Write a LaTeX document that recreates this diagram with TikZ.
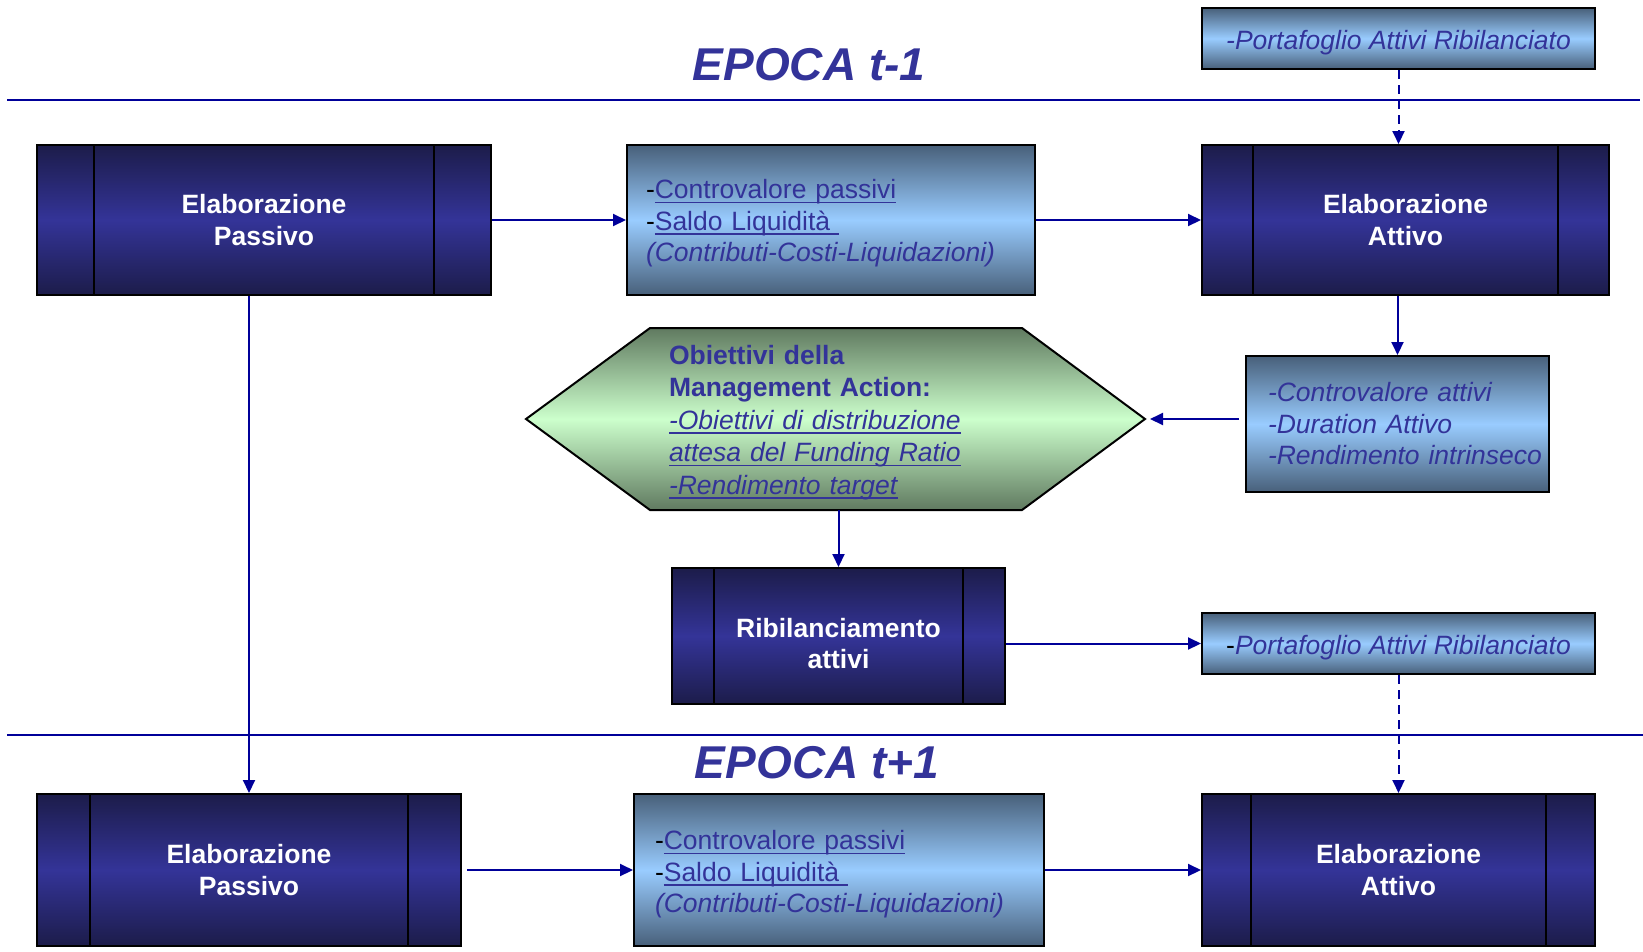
\documentclass[tikz,border=0pt]{standalone}
\usepackage{fontspec}
\setmainfont{Liberation Sans}
\usetikzlibrary{calc,arrows.meta}
\definecolor{txtblue}{RGB}{51,51,153}
\definecolor{lineblue}{RGB}{0,0,153}
\definecolor{navyedge}{RGB}{28,28,74}
\definecolor{navymid}{RGB}{52,52,152}
\definecolor{slate}{RGB}{72,96,122}
\definecolor{skyblue}{RGB}{153,204,255}
\definecolor{greygreen}{RGB}{96,122,96}
\definecolor{mint}{RGB}{204,255,204}
\newcommand{\myul}[1]{\setbox0\hbox{#1}\leavevmode\rlap{\rule[-4.5pt]{\wd0}{1.4pt}}\box0}
\newcommand{\topstrut}[1]{\rule{0pt}{#1}}
\tikzset{
  procbox/.style={draw=black, line width=2pt, top color=navyedge, bottom color=navyedge, middle color=navymid,
    text=white, font=\bfseries\fontsize{26.5}{31.5}\selectfont, align=center, inner sep=0pt,
    path picture={
      \draw[black,line width=2pt]
        ($(path picture bounding box.north west)!0.125!(path picture bounding box.north east)$) --
        ($(path picture bounding box.south west)!0.125!(path picture bounding box.south east)$);
      \draw[black,line width=2pt]
        ($(path picture bounding box.north west)!0.875!(path picture bounding box.north east)$) --
        ($(path picture bounding box.south west)!0.875!(path picture bounding box.south east)$);
    }},
  infobox/.style={draw=black, line width=2pt, top color=slate, bottom color=slate, middle color=skyblue,
    text=txtblue, font=\fontsize{26.5}{31.5}\selectfont, align=left, inner sep=0pt},
  conn/.style={lineblue, line width=2pt, -{Triangle[length=13pt,width=12pt]}},
  dashconn/.style={conn, dash pattern=on 9pt off 6pt},
  divider/.style={lineblue, line width=2pt},
  epoca/.style={text=txtblue, font=\bfseries\itshape\fontsize{46}{55}\selectfont, inner sep=0pt},
  hexshape/.style={draw=black, line width=2pt, top color=greygreen, bottom color=greygreen, middle color=mint},
  hextext/.style={text=txtblue, font=\fontsize{26.5}{32.5}\selectfont, align=left, text width=332pt, inner sep=0pt}
}
\begin{document}
\begin{tikzpicture}[x=1pt,y=-1pt]
\useasboundingbox (0,0) rectangle (1643,951);
% dividers
\coordinate (d1l) at (7,99.5);
\coordinate (d1r) at (1640,99.5);
\coordinate (d2l) at (7,734.5);
\coordinate (d2r) at (1643,734.5);
\draw[divider] (d1l) -- (d1r);
\draw[divider] (d2l) -- (d2r);
\node[epoca] (ep1) at (809,65) {EPOCA t-1};
\node[epoca] (ep2) at (817,763) {EPOCA t+1};

% top row
\node[procbox, minimum width=454pt, minimum height=150pt] (pt) at (264,220) {Elaborazione\\Passivo};
\node[infobox, minimum width=408pt, minimum height=150pt, text width=370pt] (b1) at (831,220)
  {\topstrut{26pt}\textcolor{black}{-}\myul{Controvalore passivi}\\\textcolor{black}{-}\myul{Saldo Liquidità\ }\\\textit{(Contributi-Costi-Liquidazioni)}};
\node[procbox, minimum width=407pt, minimum height=150pt] (at) at (1405.5,220) {Elaborazione\\Attivo};
\node[infobox, minimum width=393pt, minimum height=61pt] (portT) at (1398.5,38.5) {\topstrut{27.5pt}\textit{-Portafoglio Attivi Ribilanciato}};

% middle
\node[infobox, minimum width=303pt, minimum height=136pt, text width=259pt] (ca) at (1397.5,424)
  {\mbox{\textit{-Controvalore attivi}}\\\mbox{\textit{-Duration Attivo}}\\\mbox{\textit{-Rendimento intrinseco}}};
\coordinate (hL) at (526,419);
\coordinate (hTL) at (650,328);
\coordinate (hTR) at (1022,328);
\coordinate (hR) at (1145,419);
\coordinate (hBR) at (1022,510);
\coordinate (hBL) at (650,510);
\path[hexshape] (hL) -- (hTL) -- (hTR) -- (hR) -- (hBR) -- (hBL) -- cycle;
\node[hextext] (hex) at (835,419)
  {\topstrut{26pt}\textbf{Obiettivi della}\\\textbf{Management Action:}\\\myul{\textit{-Obiettivi di distribuzione}}\\\myul{\textit{attesa del Funding Ratio}}\\\myul{\textit{-Rendimento target}}};
\node[procbox, minimum width=333pt, minimum height=136pt] (rib) at (838.5,636) {\topstrut{34pt}Ribilanciamento\\attivi};
\node[infobox, minimum width=393pt, minimum height=61pt] (portB) at (1398.5,643.5) {\topstrut{27.5pt}\textcolor{black}{-}\textit{Portafoglio Attivi Ribilanciato}};

% bottom row
\node[procbox, minimum width=424pt, minimum height=152pt] (pb) at (249,870) {Elaborazione\\Passivo};
\node[infobox, minimum width=410pt, minimum height=152pt, text width=368pt] (b1b) at (839,870)
  {\topstrut{28pt}\textcolor{black}{-}\myul{Controvalore passivi}\\\textcolor{black}{-}\myul{Saldo Liquidità\ }\\\textit{(Contributi-Costi-Liquidazioni)}};
\node[procbox, minimum width=393pt, minimum height=152pt] (ab) at (1398.5,870) {Elaborazione\\Attivo};

% connectors
\draw[conn] (pt.east) -- (b1.west);
\draw[conn] (b1.east) -- (at.west);
\draw[dashconn] (portT.south) -- (portT.south |- at.north);
\draw[conn] (ca.north |- at.south) -- (ca.north);
\draw[conn, shorten <=6pt, shorten >=5pt] (ca.west |- hR) -- (hR);
\draw[conn] (rib.north |- hBL) -- (rib.north);
\draw[conn] (portB.west -| rib.east) -- (portB.west);
\draw[dashconn] (portB.south) -- (ab.north);
\draw[conn] (pb.north |- pt.south) -- (pb.north);
\draw[conn, shorten <=5pt] (pb.east) -- (b1b.west);
\draw[conn] (b1b.east) -- (ab.west);
\end{tikzpicture}
\end{document}
